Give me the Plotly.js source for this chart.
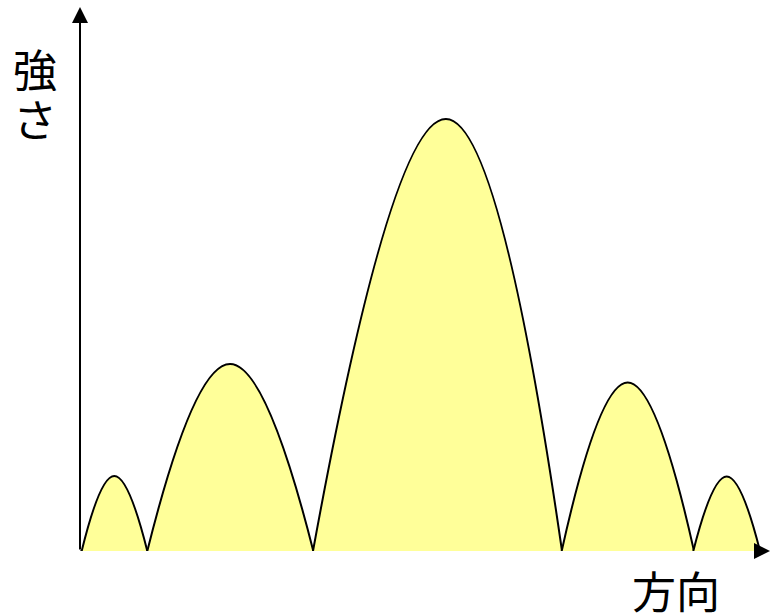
<!DOCTYPE html>
<html>
<head>
<meta charset="utf-8">
<script src="https://cdn.plot.ly/plotly-3.0.1.min.js"></script>
<style>
  html, body { margin: 0; padding: 0; background: #ffffff; }
  #chart { width: 770px; height: 616px; }
</style>
</head>
<body>
<div id="chart"></div>
<script>
// Radiation pattern: intensity (強さ) versus direction (方向), five lobes.
// Each lobe: left null, peak, right null.
const lobeStart = [1.7, 67.3, 233, 481.7, 613.3];
const lobePeakDir = [34.3, 150, 366, 547.7, 646.7];
const lobeEnd = [67.3, 233.3, 482, 614, 680];
const lobePeak = [75, 187, 432, 168.5, 74.5];

const yLabel = ['強', 'さ'];
const xLabel = '方向';

const dirMax = 690;
const intMax = 551;

const traces = lobePeak.map((peak, i) => ({
  type: 'scatter',
  mode: 'lines',
  x: [lobeStart[i], lobePeakDir[i], lobeEnd[i]],
  y: [0, peak, 0],
  fill: 'tozeroy',
  fillcolor: '#FFFF99',
  line: { color: '#000000', width: 2, shape: 'spline', smoothing: 1.3 },
  hoverinfo: 'skip',
  showlegend: false
}));

const font = { family: '"Noto Sans CJK JP", "Noto Sans", sans-serif', size: 44, color: '#000000' };

const layout = {
  width: 770,
  height: 616,
  margin: { l: 80, r: 0, t: 0, b: 65 },
  paper_bgcolor: '#ffffff',
  plot_bgcolor: '#ffffff',
  showlegend: false,
  xaxis: {
    range: [0, dirMax],
    showgrid: false, zeroline: false, showticklabels: false, ticks: '',
    showline: false, fixedrange: true
  },
  yaxis: {
    range: [0, intMax],
    showgrid: false, zeroline: false, showticklabels: false, ticks: '',
    showline: false, fixedrange: true
  },
  shapes: [
    // horizontal baseline
    { type: 'line', xref: 'x', yref: 'y', x0: 0, y0: 0, x1: dirMax - 10, y1: 0,
      line: { color: '#808080', width: 2 }, layer: 'below' }
  ],
  annotations: [
    // vertical axis with arrow
    { xref: 'x', yref: 'y', axref: 'x', ayref: 'y',
      x: 0, y: intMax - 7, ax: 0, ay: 0, text: '',
      showarrow: true, arrowhead: 2, arrowsize: 1.6, arrowwidth: 2, arrowcolor: '#000000' },
    // horizontal axis arrowhead
    { xref: 'x', yref: 'y', axref: 'x', ayref: 'y',
      x: dirMax, y: 0, ax: dirMax - 14, ay: 0, text: '',
      showarrow: true, arrowhead: 2, arrowsize: 1.6, arrowwidth: 2, arrowcolor: '#000000' },
    // axis labels
    { xref: 'paper', yref: 'paper', x: (35 - 80) / 690, y: (551 - 68) / 551,
      xanchor: 'center', yanchor: 'middle', height: 47, valign: 'middle',
      showarrow: false, text: yLabel[0], font: font },
    { xref: 'paper', yref: 'paper', x: (35 - 80) / 690, y: (551 - 117) / 551,
      xanchor: 'center', yanchor: 'middle', height: 47, valign: 'middle',
      showarrow: false, text: yLabel[1], font: font },
    { xref: 'paper', yref: 'paper', x: (676 - 80) / 690, y: (551 - 590) / 551,
      xanchor: 'center', yanchor: 'middle', height: 48, valign: 'middle',
      showarrow: false, text: xLabel, font: font }
  ]
};

Plotly.newPlot('chart', traces, layout, { staticPlot: true, displayModeBar: false });
</script>
</body>
</html>
